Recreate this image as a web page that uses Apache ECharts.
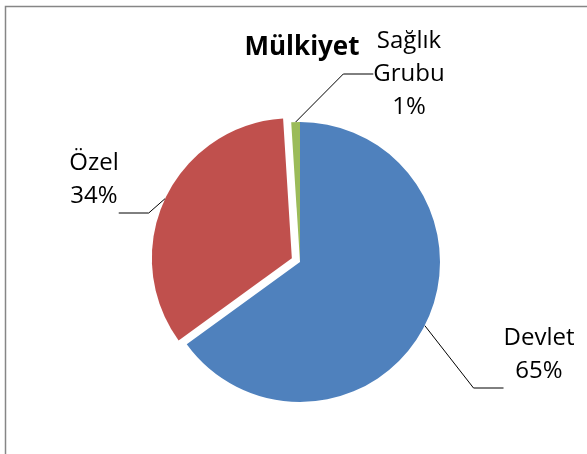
<!DOCTYPE html>
<html>
<head>
<meta charset="utf-8">
<script src="https://cdn.jsdelivr.net/npm/echarts@6/dist/echarts.min.js"></script>
<style>
  html, body { margin: 0; padding: 0; background: #fff; }
  #pie { width: 587px; height: 454px; }
</style>
</head>
<body>
<div id="pie"></div>
<script>
// dilimler (saat yönünde, tepeden başlayarak)
const categories = ['Devlet', 'Özel', 'Sağlık Grubu'];
const values = [65, 34, 1];
const colors = ['#4F81BD', '#C0504D', '#9BBB59'];
const exploded = [false, true, false];
// etiket yerleri (piksel, metin ortası)
const labelSpots = [[539, 355], [94, 180], [409, 74]];
// boş alt satırlar: çizgi metnin altına bağlansın diye
const blankLines = [2, 2, 0];

const LINE_H = 33;
const CENTER = [300, 262];
const EXPLODE = 9;

// ayrık dilimin kaydırılması (orta açı yönünde)
const total = values.reduce((a, b) => a + b, 0);
let acc = 0;
const shifts = values.map(v => {
  const mid = (acc + v / 2) / total * Math.PI * 2;
  acc += v;
  return [EXPLODE * Math.sin(mid), -EXPLODE * Math.cos(mid)];
});

const labelOpt = {
  show: true,
  position: 'outside',
  formatter: p =>
    p.name.replace(' ', '\n') + '\n' + p.percent.toFixed(0) + '%' +
    '\n '.repeat(blankLines[p.dataIndex]),
  fontFamily: 'Open Sans',
  fontSize: 24,
  lineHeight: LINE_H,
  color: '#000',
  align: 'center',
};

const makeSeries = (isExploded, center) => ({
  type: 'pie',
  center,
  radius: 140,
  startAngle: 90,
  clockwise: true,
  silent: true,
  emphasis: { disabled: true },
  data: categories.map((name, i) => {
    const mine = exploded[i] === isExploded;
    return {
      name,
      value: values[i],
      itemStyle: { color: mine ? colors[i] : 'rgba(0,0,0,0)' },
      label: { show: mine },
      labelLine: { show: mine },
    };
  }),
  label: labelOpt,
  labelLine: { show: true, lineStyle: { color: '#000', width: 1 } },
  labelLayout: params => ({
    x: labelSpots[params.dataIndex][0],
    y: labelSpots[params.dataIndex][1] + blankLines[params.dataIndex] * LINE_H / 2,
    align: 'center',
    verticalAlign: 'middle',
  }),
});

const idx = exploded.indexOf(true);
const chart = echarts.init(document.getElementById('pie'));
const option = {
  animation: false,
  title: {
    text: 'Mülkiyet',
    left: 297,
    top: 30,
    textAlign: 'center',
    textStyle: {
      fontFamily: 'Open Sans',
      fontWeight: 'bold',
      fontSize: 26,
      color: '#000',
    },
  },
  graphic: [
    {
      type: 'rect',
      shape: { x: 5.5, y: 6.5, width: 700, height: 600 },
      style: { fill: 'none', stroke: '#868686', lineWidth: 1.5 },
      silent: true,
    },
  ],
  series: [
    makeSeries(false, CENTER),
    makeSeries(true, [CENTER[0] + shifts[idx][0], CENTER[1] + shifts[idx][1]]),
  ],
};
chart.setOption(option);
</script>
</body>
</html>
